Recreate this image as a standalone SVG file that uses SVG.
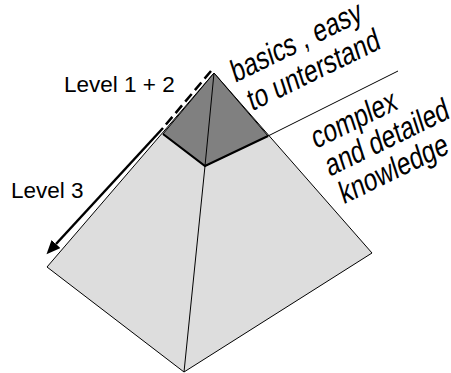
<svg xmlns="http://www.w3.org/2000/svg" width="451" height="373" viewBox="0 0 451 373">
  <style>
    .face { fill: #dddddd; stroke: #000; stroke-width: 1; stroke-linejoin: round; }
    .cap { fill: #808080; stroke: #000; stroke-width: 1; stroke-linejoin: round; }
    .edge { fill: none; stroke: #000; stroke-width: 1; }
    .thick { fill: none; stroke: #000; stroke-width: 2.2; stroke-linejoin: miter; }
    .lbl { font-family: "Liberation Sans", Arial, sans-serif; font-size: 22.5px; fill: #000; }
    .rot { font-family: "Liberation Sans", Arial, sans-serif; font-size: 31px; fill: #000; }
  </style>
  <defs>
    <marker id="head" markerUnits="userSpaceOnUse" markerWidth="16" markerHeight="14" refX="0" refY="6" orient="auto">
      <path d="M0,0 L14,6 L0,12 z" fill="#000"/>
    </marker>
  </defs>
  <rect width="451" height="373" fill="#fff"/>
  <g id="pyramid">
    <polygon class="face" points="214,73 47,267 184,372 372,253"/>
    <path class="edge" d="M205,166 L184,372"/>
  </g>
  <g id="top-level">
    <polygon class="cap" points="214,73 163,134 205,166 268,136"/>
    <path class="edge" d="M214,73 L205,166"/>
    <path class="thick" d="M163,134 L205,166 L268,136"/>
  </g>
  <g id="connectors">
    <path class="edge" d="M268,136 L398,71"/>
    <path d="M211,71 L163,128" fill="none" stroke="#000" stroke-width="2.5" stroke-dasharray="10,5"/>
    <path d="M163,128 L56,244" fill="none" stroke="#000" stroke-width="2.5" marker-end="url(#head)"/>
  </g>
  <g id="label-level12">
    <text class="lbl" x="64" y="92">Level 1 + 2</text>
  </g>
  <g id="label-level3">
    <text class="lbl" x="11" y="198">Level 3</text>
  </g>
  <g id="label-basics">
    <text class="rot" transform="translate(235,83) rotate(-26) skewX(-8) scale(0.8,1)"><tspan x="0" y="0">basics , easy</tspan><tspan x="9" y="33">to unterstand</tspan></text>
  </g>
  <g id="label-complex">
    <text class="rot" transform="translate(312,151) rotate(-26) skewX(-8) scale(0.8,1)"><tspan x="5" y="0">complex</tspan><tspan x="11" y="31">and  detailed</tspan><tspan x="17" y="62">knowledge</tspan></text>
  </g>
</svg>
